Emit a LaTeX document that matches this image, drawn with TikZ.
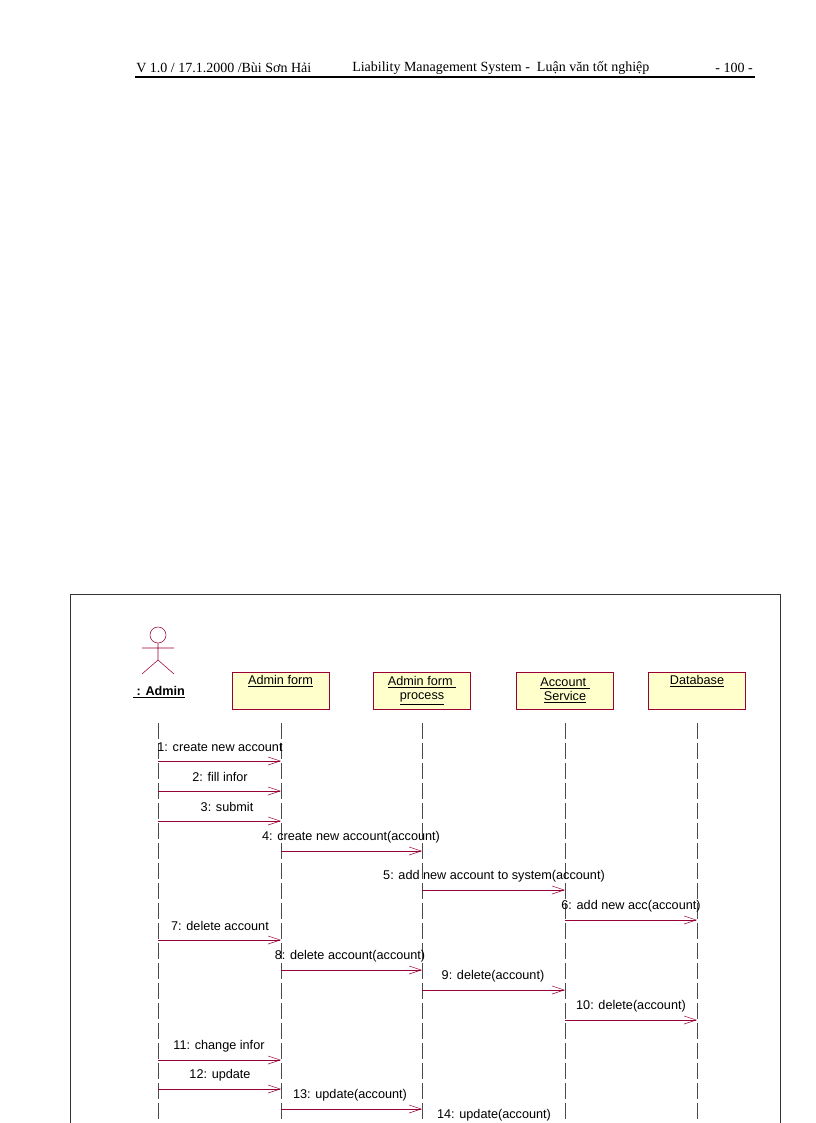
\documentclass[tikz,border=0pt]{standalone}
\usepackage{fontspec}
\setmainfont{Liberation Sans}
\newfontfamily\hdr{Liberation Serif}
\usetikzlibrary{arrows.meta}
\definecolor{dr}{HTML}{990033}
\definecolor{by}{HTML}{FFFFCC}
\begin{document}
\begin{tikzpicture}[x=0.75pt,y=-0.75pt,
  obj/.style={draw=dr,fill=by,minimum width=73pt,minimum height=27.5pt,align=center,inner sep=1pt,font=\fontsize{9.5}{10.5}\selectfont},
  life/.style={draw=black!70,dash pattern=on 12pt off 3pt},
  msg/.style={draw=dr,-{Straight Barb[length=9pt,width=6pt]}},
  lbl/.style={font=\fontsize{9.5}{10.5}\selectfont,inner sep=0pt},
  hd/.style={font=\hdr\fontsize{10.5}{12}\selectfont,inner sep=0}]
\useasboundingbox (0,0) rectangle (816,1123);
\clip (0,0) rectangle (816,1123);
% header
\node[hd,anchor=west] (h1) at (136,68) {V 1.0 / 17.1.2000 /Bùi Sơn Hải};
\node[hd,anchor=west] (h2) at (352,68) {Liability Management System -\ \ Luận văn tốt nghiệp};
\node[hd,anchor=east] (h3) at (753,68) {- 100 -};
\draw[line width=0.8pt] (135,77) -- (755,77);
% frame
\draw[black!80] (70,1130) -- (70,594) -- (780,594) -- (780,1130);
% actor
\draw[dr] (158,635) circle (8);
\draw[dr] (158,643) -- (158,660) (142,648) -- (174,648) (158,660) -- (142,674) (158,660) -- (174,674);
\node[font=\bfseries\fontsize{9.5}{10.5}\selectfont,inner sep=0] (admin) at (159,692) {\underline{\ : Admin}};
% objects
\node[obj] (af) at (280.5,690.5) {\underline{Admin form}\\[5pt]};
\node[obj] (afp) at (422,690.5) {\underline{Admin form\ }\\\underline{process}};
\node[obj] (as) at (565,690.5) {\underline{Account\ }\\\underline{Service}};
\node[obj] (db) at (697,690.5) {\underline{Database}\\[5pt]};
% lifelines
\foreach \n/\x in {a/158,b/281,c/422,d/565,e/697}{
  \coordinate (\n t) at (\x,723);
  \coordinate (\n b) at (\x,1130);
  \draw[life] (\n t) -- (\n b);
}
% messages
\newcommand\msgline[6]{%
  \coordinate (s#1) at (#2,#4); \coordinate (t#1) at (#3,#4);
  \draw[msg] (s#1) -- (t#1);
  \node[lbl] (l#1) at (#5,#4-14) {#6};}
\msgline{1}{158}{281}{761}{220}{1: create new account}
\msgline{2}{158}{281}{791}{220}{2: fill infor}
\msgline{3}{158}{281}{821}{227}{3: submit}
\msgline{4}{281}{422}{851}{351}{4: create new account(account)}
\msgline{5}{422}{565}{890}{494}{5: add new account to system(account)}
\msgline{6}{565}{697}{920}{631}{6: add new acc(account)}
\msgline{7}{158}{281}{940}{220}{7: delete account}
\msgline{8}{281}{422}{970}{350}{8: delete account(account)}
\msgline{9}{422}{565}{990}{493}{9: delete(account)}
\msgline{10}{565}{697}{1020}{631}{10: delete(account)}
\msgline{11}{158}{281}{1060}{219}{11: change infor}
\msgline{12}{158}{281}{1089}{220}{12: update}
\msgline{13}{281}{422}{1109}{350}{13: update(account)}
\msgline{14}{422}{565}{1129}{494}{14: update(account)}
\end{tikzpicture}
\end{document}
